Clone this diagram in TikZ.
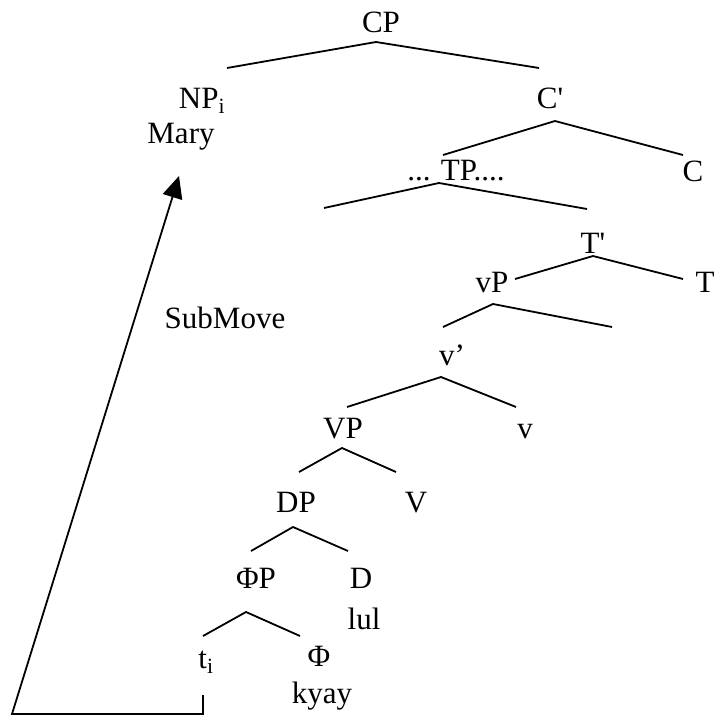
\documentclass[tikz,border=0pt]{standalone}
\usepackage{fontspec}
\setmainfont{Liberation Serif}
\newfontfamily\plainserif{Liberation Serif}
\usetikzlibrary{arrows.meta}
\tikzset{%
  % Specifications for style of lines:
   branch/.style={
           line width=1.8pt,},
   movement/.style={
           line width=1.8pt,
           -{Triangle[length=22pt,width=20pt]},},
  % Specifications for style of nodes:
   cat/.style = {anchor=base, inner sep=0pt,
                  font=\fontsize{31}{37}\selectfont},
}

\begin{document}
\begin{tikzpicture}[x=1pt, y=-1pt]
  \useasboundingbox (0,0) rectangle (713,717);

  % Specification of nodes (labels of the tree)
  \node (CP_lab)   [cat] at (381,33)  {CP};
  \node (NP_lab)   [cat] at (202,108) {NP\textsubscript{i}};
  \node (Mary_lab) [cat] at (181,143) {Mary};
  \node (Cbar_lab) [cat] at (550,108) {C{\plainserif '}};
  \node (TP_lab)   [cat] at (456,180) {... TP....};
  \node (C_lab)    [cat] at (693,181) {C};
  \node (Tbar_lab) [cat] at (593,253) {T{\plainserif '}};
  \node (vP_lab)   [cat] at (492,292) {vP};
  \node (T_lab)    [cat] at (705,292) {T};
  \node (vbar_lab) [cat] at (452,365) {v'};
  \node (VP_lab)   [cat] at (343,438) {VP};
  \node (v_lab)    [cat] at (525,438) {v};
  \node (DP_lab)   [cat] at (296,512) {DP};
  \node (V_lab)    [cat] at (416,512) {V};
  \node (PhiP_lab) [cat] at (256,588) {ΦP};
  \node (D_lab)    [cat] at (361,588) {D};
  \node (lul_lab)  [cat] at (364,629) {lul};
  \node (t_lab)    [cat] at (206,668) {t\textsubscript{i}};
  \node (Phi_lab)  [cat] at (319,666) {Φ};
  \node (kyay_lab) [cat] at (322,703) {kyay};
  \node (move_lab) [cat] at (225,328) {SubMove};

  % Branch points
  \coordinate (CP_top)    at (376,42);  \coordinate (CP_l)    at (227,68);  \coordinate (CP_r)    at (539,68);
  \coordinate (Cbar_top)  at (555,121); \coordinate (Cbar_l)  at (443,155); \coordinate (Cbar_r)  at (683,155);
  \coordinate (TP_top)    at (439,183); \coordinate (TP_l)    at (324,208); \coordinate (TP_r)    at (587,209);
  \coordinate (Tbar_top)  at (593,256); \coordinate (Tbar_l)  at (515,279); \coordinate (Tbar_r)  at (683,279);
  \coordinate (vP_top)    at (493,304); \coordinate (vP_l)    at (443,327); \coordinate (vP_r)    at (612,327);
  \coordinate (vbar_top)  at (441,377); \coordinate (vbar_l)  at (347,407); \coordinate (vbar_r)  at (516,407);
  \coordinate (VP_top)    at (342,448); \coordinate (VP_l)    at (299,472); \coordinate (VP_r)    at (396,472);
  \coordinate (DP_top)    at (293,527); \coordinate (DP_l)    at (251,551); \coordinate (DP_r)    at (348,551);
  \coordinate (PhiP_top)  at (246,612); \coordinate (PhiP_l)  at (203,636); \coordinate (PhiP_r)  at (300,636);

  % Branches
	\draw[branch]	(CP_l) -- (CP_top) -- (CP_r);
	\draw[branch]	(Cbar_l) -- (Cbar_top) -- (Cbar_r);
	\draw[branch]	(TP_l) -- (TP_top) -- (TP_r);
	\draw[branch]	(Tbar_l) -- (Tbar_top) -- (Tbar_r);
	\draw[branch]	(vP_l) -- (vP_top) -- (vP_r);
	\draw[branch]	(vbar_l) -- (vbar_top) -- (vbar_r);
	\draw[branch]	(VP_l) -- (VP_top) -- (VP_r);
	\draw[branch]	(DP_l) -- (DP_top) -- (DP_r);
	\draw[branch]	(PhiP_l) -- (PhiP_top) -- (PhiP_r);

  % Movement of the trace
  \coordinate (t_foot)  at (203,695);
  \coordinate (t_low)   at (203,714);
  \coordinate (far_low) at (12,714);
  \coordinate (Mary_tip) at (179,176);
	\draw[movement]	(t_foot) -- (t_low) -- (far_low) -- (Mary_tip);

\end{tikzpicture}
\end{document}
